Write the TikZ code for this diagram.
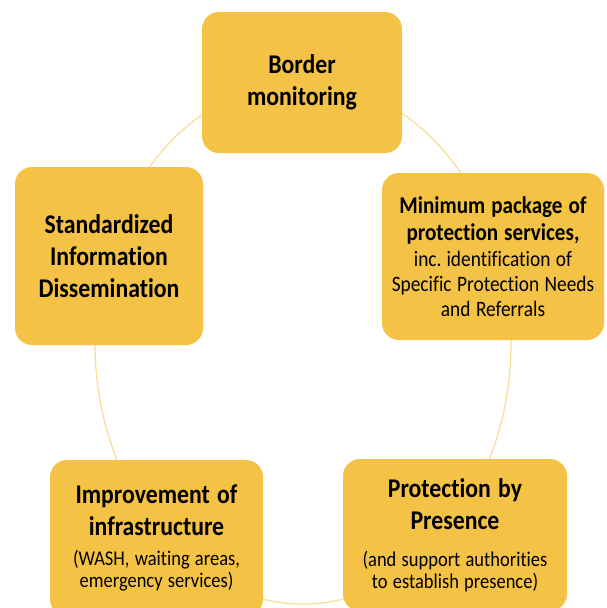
\documentclass[tikz,border=0pt]{standalone}
\usepackage{fontspec}
\setmainfont{Carlito}[FakeStretch=0.88, Ligatures={NoCommon}, RawFeature={-liga}]
\definecolor{boxgold}{HTML}{F4C244}
\definecolor{ringgold}{HTML}{F8DC96}
\newcommand\bigb{\fontsize{27}{32}\selectfont\bfseries\spaceskip=0.27em\relax}
\newcommand\midb{\fontsize{24}{27}\selectfont\bfseries\spaceskip=0.25em\relax}
\newcommand\midr{\fontsize{22}{25}\selectfont\spaceskip=0.25em\relax}
\newcommand\smallr{\fontsize{21}{22}\selectfont\spaceskip=0.25em\relax}
\begin{document}
\begin{tikzpicture}[x=1pt,y=-1pt,
  box/.style={draw=none, fill=boxgold, rounded corners=17pt, inner sep=0pt, align=center},
  ring/.style={draw=ringgold, line width=1.2pt}]
\useasboundingbox (0,0) rectangle (606,608);
\draw[ring] (303,343) ellipse [x radius=208pt, y radius=261pt];
\node[box, minimum width=200pt, minimum height=141pt, text width=190pt] (border) at (302,82.5)
  {\bigb Border\\monitoring\par};
\node[box, minimum width=222pt, minimum height=167pt, text width=220pt] (package) at (493,256.5)
  {{\midb Minimum package of\\protection services,\par}\vspace{1pt}{\midr inc. identification of\\Specific Protection Needs\\and Referrals\par}};
\node[box, minimum width=188pt, minimum height=178pt, text width=180pt] (info) at (109,256)
  {\bigb Standardized\\Information\\Dissemination\par};
\node[box, minimum width=213pt, minimum height=156pt, text width=210pt] (infra) at (156.5,538)
  {{\bigb Improvement of\\infrastructure\par}\vspace{8pt}{\smallr (WASH, waiting areas,\\emergency services)\par}};
\node[box, minimum width=224pt, minimum height=152pt, text width=220pt] (presence) at (455,535)
  {{\bigb Protection by\\Presence\par}\vspace{15pt}{\smallr (and support authorities\\to establish presence)\par}};
\end{tikzpicture}
\end{document}
